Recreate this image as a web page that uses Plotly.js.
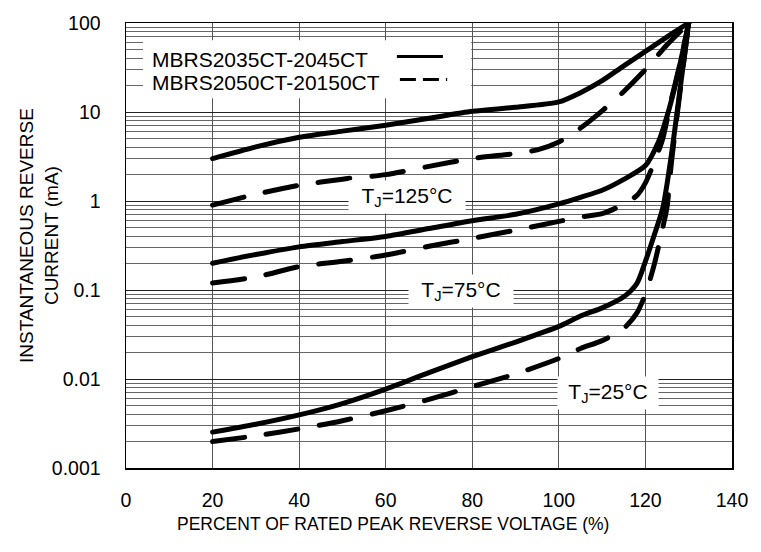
<!DOCTYPE html>
<html>
<head>
<meta charset="utf-8">
<script src="https://cdn.plot.ly/plotly-3.0.1.min.js"></script>
<style>
html,body{margin:0;padding:0;background:#fff;}
#chart{width:761px;height:552px;}
.scatterlayer .js-line{stroke-linecap:round;stroke-linejoin:round;}
</style>
</head>
<body>
<div id="chart"></div>
<script>
// ---- data (percent of rated voltage vs reverse current, mA) ----
const xSolid125 = [20,30,40,50,60,70,80,90,100,105,110,115,120,125,130];
const ySolid125 = [3.0,4.05,5.2,6.1,7.1,8.5,10.2,11.3,13,16.5,22.5,33,48,70,100];

const xDash125 = [20,30,40,50,60,70,80,90,95,100,105,110,115,120,125,130];
const yDash125 = [0.9,1.19,1.5,1.76,1.98,2.45,3.0,3.42,3.75,4.6,6.6,10.3,17,30,57,100];

const xSolid75 = [20,30,40,50,60,70,80,90,100,105,110,115,120,123,125,127,130];
const ySolid75 = [0.2,0.25,0.305,0.35,0.4,0.49,0.6,0.71,0.93,1.1,1.32,1.75,2.5,4.6,9,21,100];

const xDash75 = [20,30,40,50,60,70,80,90,100,105,110,115,118,120,122,124,126,128,130];
const yDash75 = [0.12,0.14,0.183,0.21,0.247,0.31,0.38,0.47,0.59,0.66,0.72,0.92,1.15,1.6,2.7,5,14,35,100];

const xSolid25 = [20,30,40,50,60,70,80,90,100,105,110,115,118,120,122,124,126,128,130];
const ySolid25 = [0.00253,0.0031,0.00395,0.0053,0.0077,0.0118,0.0178,0.026,0.039,0.051,0.063,0.084,0.118,0.21,0.41,0.83,3.3,18,100];

const xDash25 = [20,30,40,50,60,70,80,90,100,105,110,115,118,120,122,124,125,126,128,130];
const yDash25 = [0.00198,0.0023,0.00275,0.0034,0.0044,0.0059,0.0082,0.0114,0.017,0.022,0.027,0.037,0.055,0.09,0.19,0.5,0.86,2.7,17,100];

const seriesNames = ['MBRS2035CT-2045CT','MBRS2050CT-20150CT'];

const xTickVals = [0,20,40,60,80,100,120,140];
const xTickText = ['0','20','40','60','80','100','120','140'];
const yTickVals = [0.001,0.01,0.1,1,10,100];
const yTickText = ['0.001','0.01','0.1','1','10','100'];

const tempLabels = ['T<sub>J</sub>=125°C', 'T<sub>J</sub>=75°C', 'T<sub>J</sub>=25°C'];
const tempLabelX = [65, 77.3, 111.3];
const tempLabelY = [1.1, 0.0975, 0.00689];

const xTitle = 'PERCENT OF RATED PEAK REVERSE VOLTAGE (%)';
const yTitle = 'INSTANTANEOUS REVERSE<br>CURRENT (mA)';

// ---- traces ----
const FONT = 'Liberation Sans, Arial, sans-serif';
const solid = {color:'#000', width:5, shape:'spline', smoothing:0.7};
const dashed = {color:'#000', width:5, shape:'spline', smoothing:0.7, dash:'32px,22px'};
function tr(x,y,line,name){return {x:x,y:y,mode:'lines',line:line,name:name,showlegend:false,hoverinfo:'skip',cliponaxis:true};}
const data = [
  tr(xSolid125,ySolid125,solid,seriesNames[0]),
  tr(xDash125,yDash125,dashed,seriesNames[1]),
  tr(xSolid75,ySolid75,solid,seriesNames[0]),
  tr(xDash75,yDash75,dashed,seriesNames[1]),
  tr(xSolid25,ySolid25,solid,seriesNames[0]),
  tr(xDash25,yDash25,dashed,seriesNames[1])
];

// ---- annotations ----
const annotations = [];
const labelW = [114,102,98];
tempLabels.forEach((t,i)=>{
  annotations.push({x:tempLabelX[i], y:Math.log10(tempLabelY[i]), xref:'x', yref:'y', text:t,
    showarrow:false, bgcolor:'#fff', width:labelW[i], height:30, borderpad:1,
    font:{family:FONT,size:21,color:'#000'}});
});
annotations.push({x:0.44, y:-0.125, xref:'paper', yref:'paper', text:xTitle, showarrow:false,
  xanchor:'center', yanchor:'middle', font:{family:FONT,size:17.5,color:'#000'}});
annotations.push({x:-0.1436, y:0.5236, xref:'paper', yref:'paper', text:yTitle, showarrow:false,
  textangle:-90, xanchor:'center', yanchor:'middle', font:{family:FONT,size:19,color:'#000'}});
// legend text
annotations.push({x:0.040, y:0.919, xref:'paper', yref:'paper', text:seriesNames[0], showarrow:false,
  xanchor:'left', yanchor:'middle', font:{family:FONT,size:21,color:'#000'}});
annotations.push({x:0.040, y:0.866, xref:'paper', yref:'paper', text:seriesNames[1], showarrow:false,
  xanchor:'left', yanchor:'middle', font:{family:FONT,size:21,color:'#000'}});

const shapes = [
  {type:'rect', xref:'paper', yref:'paper', x0:0.028, x1:0.5696, y0:0.831, y1:0.961,
   fillcolor:'#fff', line:{width:0}, layer:'above'},
  {type:'line', xref:'paper', yref:'paper', x0:0.447, x1:0.523, y0:0.925, y1:0.925,
   line:{color:'#000', width:3}},
  {type:'line', xref:'paper', yref:'paper', x0:0.452, x1:0.530, y0:0.873, y1:0.873,
   line:{color:'#000', width:3, dash:'16px,7px'}}
];

const layout = {
  width:761, height:552,
  margin:{l:126, r:29, t:23, b:84},
  paper_bgcolor:'#fff', plot_bgcolor:'#fff',
  font:{family:FONT, color:'#000'},
  showlegend:false,
  xaxis:{range:[0,140], tickmode:'array', tickvals:xTickVals, ticktext:xTickText,
    showgrid:true, gridcolor:'#555', gridwidth:1, zeroline:false,
    showline:true, mirror:true, linecolor:'#000', linewidth:1.5,
    ticks:'', ticklabelstandoff:14, tickfont:{family:FONT,size:19.5,color:'#000'}},
  yaxis:{type:'log', range:[-3,2], tickmode:'array', tickvals:yTickVals, ticktext:yTickText,
    showgrid:true, gridcolor:'#222', gridwidth:1, zeroline:false,
    showline:true, mirror:true, linecolor:'#000', linewidth:1.5,
    ticks:'', ticklabelstandoff:20, tickfont:{family:FONT,size:19.5,color:'#000'},
    minor:{dtick:'D1', showgrid:true, gridcolor:'#666', gridwidth:1, ticks:''}},
  annotations:annotations,
  shapes:shapes
};

Plotly.newPlot('chart', data, layout, {staticPlot:true, displayModeBar:false});
</script>
</body>
</html>
